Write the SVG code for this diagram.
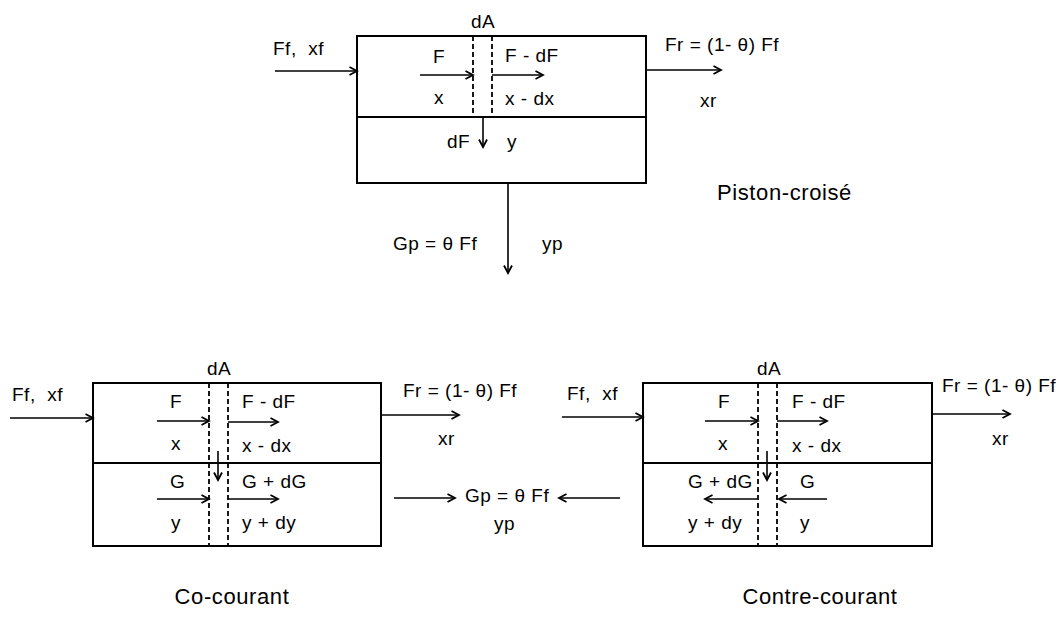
<svg xmlns="http://www.w3.org/2000/svg" width="1061" height="617" viewBox="0 0 1061 617">
<style>
  text { font-family: "Liberation Sans", Arial, sans-serif; font-size: 19px; letter-spacing: 0.5px; fill: #000; }
  .cap { font-size: 22px; letter-spacing: 0.6px; }
  .box { fill: none; stroke: #000; stroke-width: 2; }
  .mid { stroke: #000; stroke-width: 1.8; }
  .dash { stroke: #000; stroke-width: 1.8; stroke-dasharray: 5 3; }
  .arr { stroke: #000; stroke-width: 1.6; fill: none; marker-end: url(#ah); }
</style>
<defs>
  <marker id="ah" markerUnits="userSpaceOnUse" markerWidth="12" markerHeight="12" refX="9" refY="5" orient="auto">
    <path d="M1.5,1 L9,5 L1.5,9" fill="none" stroke="#000" stroke-width="1.8"/>
  </marker>
</defs>
<rect width="1061" height="617" fill="#fff"/>

<!-- Piston-croisé -->
<g id="piston-croise">
  <rect class="box" x="357" y="36" width="289" height="147"/>
  <line class="mid" x1="357" y1="117" x2="646" y2="117"/>
  <line class="dash" x1="473" y1="36" x2="473" y2="117"/>
  <line class="dash" x1="492" y1="36" x2="492" y2="117"/>
  <text x="483" y="28" text-anchor="middle">dA</text>
  <text x="433" y="63">F</text>
  <text x="505" y="62">F - dF</text>
  <text x="434" y="104">x</text>
  <text x="505" y="105">x - dx</text>
  <text x="447" y="148">dF</text>
  <text x="507" y="148">y</text>
  <text x="273" y="55" xml:space="preserve">Ff,  xf</text>
  <text x="665" y="51">Fr = (1- θ) Ff</text>
  <text x="700" y="107">xr</text>
  <text x="393" y="250">Gp = θ Ff</text>
  <text x="542" y="250">yp</text>
  <text class="cap" x="717" y="200">Piston-croisé</text>
</g>

<!-- Co-courant -->
<g id="co-courant">
  <rect class="box" x="93" y="383" width="288" height="163"/>
  <line class="mid" x1="93" y1="463" x2="381" y2="463"/>
  <line class="dash" x1="209" y1="383" x2="209" y2="546"/>
  <line class="dash" x1="228" y1="383" x2="228" y2="546"/>
  <text x="219" y="375" text-anchor="middle">dA</text>
  <text x="12" y="401" xml:space="preserve">Ff,  xf</text>
  <text x="170" y="408">F</text>
  <text x="242" y="408">F - dF</text>
  <text x="171" y="450">x</text>
  <text x="242" y="452">x - dx</text>
  <text x="170" y="488">G</text>
  <text x="242" y="488">G + dG</text>
  <text x="171" y="529">y</text>
  <text x="242" y="529">y + dy</text>
  <text x="403" y="397">Fr = (1- θ) Ff</text>
  <text x="438" y="445">xr</text>
  <text class="cap" x="232" y="604" text-anchor="middle">Co-courant</text>
</g>

<!-- Shared outlet label -->
<g id="outlet-gp">
  <text x="465" y="502">Gp = θ Ff</text>
  <text x="494" y="530">yp</text>
</g>

<!-- Contre-courant -->
<g id="contre-courant">
  <rect class="box" x="643" y="383" width="289" height="163"/>
  <line class="mid" x1="643" y1="463" x2="932" y2="463"/>
  <line class="dash" x1="758" y1="383" x2="758" y2="546"/>
  <line class="dash" x1="777" y1="383" x2="777" y2="546"/>
  <text x="769" y="375" text-anchor="middle">dA</text>
  <text x="567" y="400" xml:space="preserve">Ff,  xf</text>
  <text x="718" y="408">F</text>
  <text x="792" y="408">F - dF</text>
  <text x="718" y="450">x</text>
  <text x="792" y="452">x - dx</text>
  <text x="688" y="488">G + dG</text>
  <text x="800" y="488">G</text>
  <text x="688" y="529">y + dy</text>
  <text x="800" y="529">y</text>
  <text x="942" y="392">Fr = (1- θ) Ff</text>
  <text x="992" y="445">xr</text>
  <text class="cap" x="820" y="604" text-anchor="middle">Contre-courant</text>
</g>

<g id="connectors">
  <!-- top -->
  <line class="arr" x1="275" y1="71" x2="357" y2="71"/>
  <line class="arr" x1="420" y1="75" x2="473" y2="75"/>
  <line class="arr" x1="492" y1="75" x2="543" y2="75"/>
  <line class="arr" x1="483" y1="117" x2="483" y2="147"/>
  <line class="arr" x1="646" y1="70" x2="721" y2="70"/>
  <line class="arr" x1="508" y1="183" x2="508" y2="273"/>
  <!-- co-courant -->
  <line class="arr" x1="10" y1="418" x2="93" y2="418"/>
  <line class="arr" x1="157" y1="421" x2="209" y2="421"/>
  <line class="arr" x1="228" y1="422" x2="278" y2="422"/>
  <line class="arr" x1="218" y1="451" x2="218" y2="480"/>
  <line class="arr" x1="157" y1="499" x2="209" y2="499"/>
  <line class="arr" x1="228" y1="499" x2="278" y2="499"/>
  <line class="arr" x1="381" y1="415" x2="459" y2="415"/>
  <line class="arr" x1="394" y1="498" x2="455" y2="498"/>
  <!-- contre-courant -->
  <line class="arr" x1="562" y1="417" x2="643" y2="417"/>
  <line class="arr" x1="705" y1="421" x2="758" y2="421"/>
  <line class="arr" x1="777" y1="421" x2="827" y2="421"/>
  <line class="arr" x1="767" y1="451" x2="767" y2="480"/>
  <line class="arr" x1="757" y1="499" x2="705" y2="499"/>
  <line class="arr" x1="827" y1="499" x2="779" y2="499"/>
  <line class="arr" x1="932" y1="414" x2="1010" y2="414"/>
  <line class="arr" x1="620" y1="498" x2="559" y2="498"/>
</g>
</svg>
